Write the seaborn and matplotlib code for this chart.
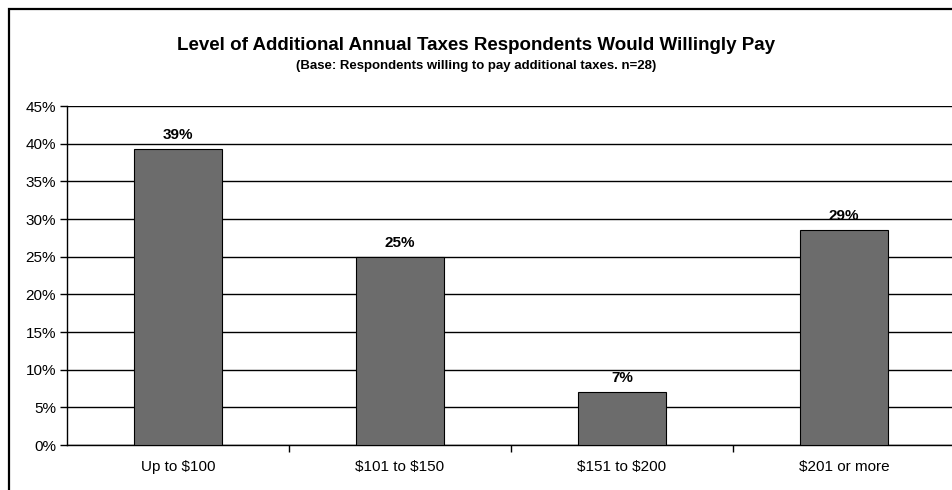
import matplotlib
matplotlib.use("Agg")
import matplotlib.pyplot as plt
import matplotlib.patches as mpatches
from matplotlib.ticker import PercentFormatter, MultipleLocator, FixedLocator
import seaborn as sns
import pandas as pd

categories = ["Up to $100", "$101 to $150", "$151 to $200", "$201 or more"]
shares = [39.3, 25.0, 7.1, 28.6]

title = "Level of Additional Annual Taxes Respondents Would Willingly Pay"
subtitle = "(Base: Respondents willing to pay additional taxes. n=28)"

sns.set_style("white")
plt.rcParams["font.family"] = ["Liberation Sans", "DejaVu Sans"]
plt.rcParams["text.parse_math"] = False
plt.rcParams["text.color"] = "black"
plt.rcParams["xtick.color"] = "black"
plt.rcParams["ytick.color"] = "black"

df = pd.DataFrame({"level": categories, "share": shares})

fig = plt.figure(figsize=(9.53, 4.90), dpi=100)
ax = fig.add_axes([67 / 953, 1 - 445 / 490, 888 / 953, 339 / 490])

sns.barplot(data=df, x="level", y="share", order=categories, color="#6c6c6c",
            width=0.4, edgecolor="black", linewidth=0.8, saturation=1, ax=ax,
            zorder=3)

ax.set_ylim(0, 45)
ax.set_xlim(-0.5, 3.5)
ax.yaxis.set_major_locator(MultipleLocator(5))
ax.yaxis.set_major_formatter(PercentFormatter(decimals=0))
ax.grid(axis="y", color="black", linewidth=1.0, zorder=0)
ax.set_axisbelow(True)
ax.set_xlabel("")
ax.set_ylabel("")

for side in ("top", "right"):
    ax.spines[side].set_visible(False)
for side in ("left", "bottom"):
    ax.spines[side].set_color("black")
    ax.spines[side].set_linewidth(1.0)

ax.tick_params(axis="y", which="major", direction="out", length=5, width=1,
               color="black", labelsize=11, pad=3, left=True)
ax.tick_params(axis="x", which="major", length=0, labelsize=11, pad=11)
ax.xaxis.set_minor_locator(FixedLocator([0.5, 1.5, 2.5]))
ax.tick_params(axis="x", which="minor", direction="out", length=5, width=1,
               color="black", bottom=True)

for i, v in enumerate(shares):
    ax.annotate(f"{round(v)}%", (i, v), xytext=(0, 5), textcoords="offset points",
                ha="center", va="bottom", fontsize=11, fontweight="bold")

fig.text(0.5, 1 - 45 / 490, title, ha="center", va="center",
         fontsize=13.5, fontweight="bold")
fig.text(0.5, 1 - 66 / 490, subtitle, ha="center", va="center",
         fontsize=9.5, fontweight="bold")

# outer chart frame
fig.patches.append(mpatches.Rectangle((9 / 953, -0.05), 1.1, 1 - 9 / 490 + 0.05,
                                      transform=fig.transFigure, fill=False,
                                      edgecolor="black", linewidth=1.6))

fig.savefig("out.png", dpi=100)
